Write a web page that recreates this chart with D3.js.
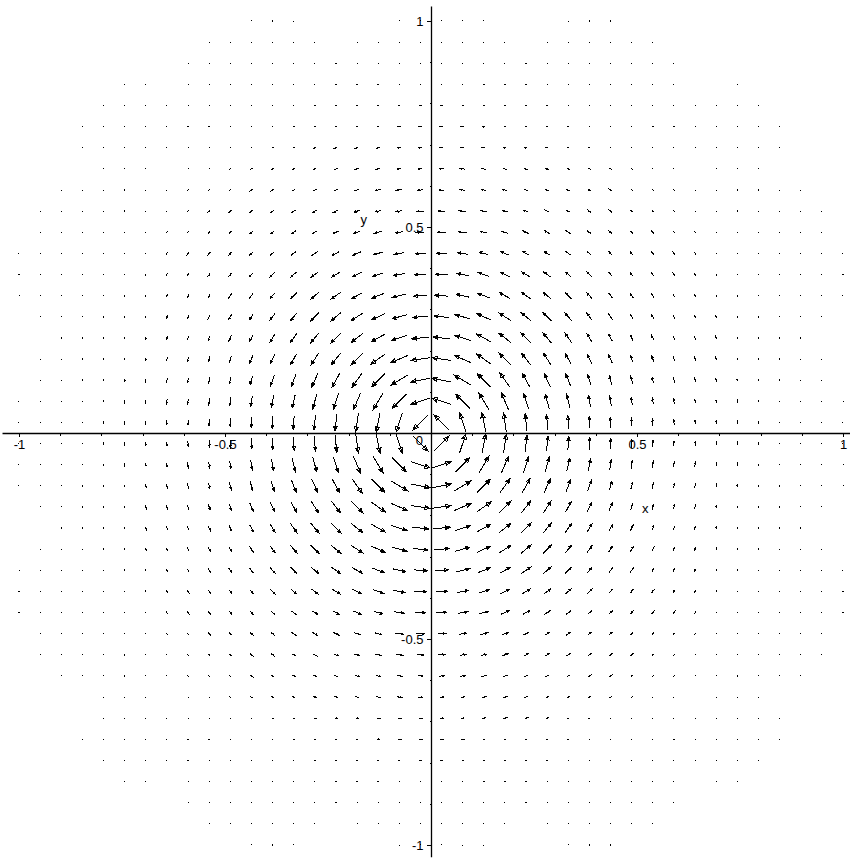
<!DOCTYPE html>
<meta charset="utf-8">
<script src="https://cdn.jsdelivr.net/npm/d3@7"></script>
<style>
  body { margin: 0; background: #fff; }
  .lbl { font-family: "Liberation Sans", Arial, sans-serif; font-size: 13px; fill: #000; }
</style>
<body>
<script>

var width = 851
var height = 859

// sample grid of the field plot: 40 x 40 points over [-1, 1]
var gridCount = 40
var gridExtent = [-1, 1]

// arrow strength, by distance from the origin (1 = longest arrow)
var ringRadius   = [0.00, 0.036, 0.08, 0.13, 0.18, 0.23, 0.28, 0.33, 0.385, 0.44, 0.49, 0.54, 0.59, 0.64, 0.69, 0.74, 0.80, 0.85, 0.90, 0.95, 1.00, 1.10, 1.20, 1.42]
var ringStrength = [1.00, 1.00,  0.96, 0.95, 0.90, 0.83, 0.74, 0.66, 0.57,  0.48, 0.37, 0.29, 0.24, 0.19, 0.15, 0.13, 0.10, 0.07, 0.055, 0.045, 0.037, 0.026, 0.016, 0.005]

// axes
var minorTicks = [-0.9, -0.8, -0.7, -0.6, -0.4, -0.3, -0.2, -0.1, 0.1, 0.2, 0.3, 0.4, 0.6, 0.7, 0.8, 0.9]
var majorTicks = [-1, -0.5, 0.5, 1]
var majorLabels = ["-1", "-0.5", "0.5", "1"]

var x = d3.scaleLinear().domain([-1, 1]).range([19, 843])
var y = d3.scaleLinear().domain([-1, 1]).range([845, 21])

var svg = d3.select("body").append("svg")
            .attr("width", width)
            .attr("height", height)
            .style("display", "block")

var grid = d3.scalePoint().domain(d3.range(gridCount)).range(gridExtent)
var strength = d3.scaleLinear().domain(ringRadius).range(ringStrength).clamp(true)
var maxLen = x(grid(1)) - x(grid(0))

var points = []
d3.range(gridCount).forEach(function(i) {
  d3.range(gridCount).forEach(function(j) {
    points.push([grid(i), grid(j)])
  })
})

function arrowLen(p) {
  return strength(Math.hypot(p[0], p[1])) * maxLen
}

function arrowPath(p) {
  var gx = p[0], gy = p[1]
  var r = Math.hypot(gx, gy)
  // counterclockwise field, screen y points down
  var ux = -gy / r, uy = -gx / r
  var len = arrowLen(p)
  var cx = x(gx), cy = y(gy)
  var tx = cx - ux * len / 2, ty = cy - uy * len / 2
  var hx = cx + ux * len / 2, hy = cy + uy * len / 2
  var d = "M" + tx + "," + ty + "L" + hx + "," + hy
  if (len > 2.5) {
    var hl = len * 0.26, hw = len * 0.1
    var bx = hx - ux * hl, by = hy - uy * hl
    d += "M" + hx + "," + hy +
         "L" + (bx - uy * hw) + "," + (by + ux * hw) +
         "L" + (bx + uy * hw) + "," + (by - ux * hw) + "Z"
  }
  return d
}

// arrows shorter than half a pixel do not show up in the plot
svg.append("g").attr("id", "field")
   .selectAll("path")
   .data(points.filter(function(p) { return arrowLen(p) >= 0.45 }))
   .enter().append("path")
   .attr("d", arrowPath)
   .attr("fill", "#fff")
   .attr("stroke", "#000")
   .attr("stroke-width", 1)
   .attr("shape-rendering", "crispEdges")

// axis lines
svg.append("line")
   .attr("x1", x(-1.04)).attr("x2", x(1.017))
   .attr("y1", y(0) + 0.5).attr("y2", y(0) + 0.5)
   .attr("stroke", "#000").attr("stroke-width", 1.3)
svg.append("line")
   .attr("x1", x(0) + 0.5).attr("x2", x(0) + 0.5)
   .attr("y1", y(1.035)).attr("y2", y(-1.03))
   .attr("stroke", "#000").attr("stroke-width", 1.3)

var xMinor = svg.append("g")
    .attr("transform", "translate(0," + (y(0) + 0.5) + ")")
    .call(d3.axisBottom(x).tickValues(minorTicks).tickSize(2).tickFormat(""))
var xMajor = svg.append("g")
    .attr("class", "lbl")
    .attr("transform", "translate(0," + (y(0) + 0.5) + ")")
    .call(d3.axisBottom(x).tickValues(majorTicks).tickSize(3).tickPadding(3)
          .tickFormat(function(d, i) { return majorLabels[i] }))
var yMinor = svg.append("g")
    .attr("transform", "translate(" + (x(0) + 0.5) + ",0)")
    .call(d3.axisLeft(y).tickValues(minorTicks).tickSize(2).tickFormat(""))
var yMajor = svg.append("g")
    .attr("class", "lbl")
    .attr("transform", "translate(" + (x(0) + 0.5) + ",0)")
    .call(d3.axisLeft(y).tickValues(majorTicks).tickSize(5).tickPadding(3)
          .tickFormat(function(d, i) { return majorLabels[i] }))

svg.selectAll(".domain").remove()
svg.selectAll(".tick line").attr("stroke", "#000").attr("shape-rendering", "crispEdges")
svg.selectAll(".tick text")
   .attr("font-family", "Liberation Sans, Arial, sans-serif")
   .attr("font-size", 13)
   .attr("fill", "#000")

svg.append("text")
   .attr("class", "lbl")
   .attr("x", x(0) - 8).attr("y", y(0) + 12)
   .style("text-anchor", "end")
   .text("0")

svg.append("text")
   .attr("class", "lbl")
   .attr("x", x(-0.163)).attr("y", y(0.508))
   .style("text-anchor", "middle")
   .text("y")

svg.append("text")
   .attr("class", "lbl")
   .attr("x", x(0.520)).attr("y", y(-0.194))
   .style("text-anchor", "middle")
   .text("x")

</script>
</body>
